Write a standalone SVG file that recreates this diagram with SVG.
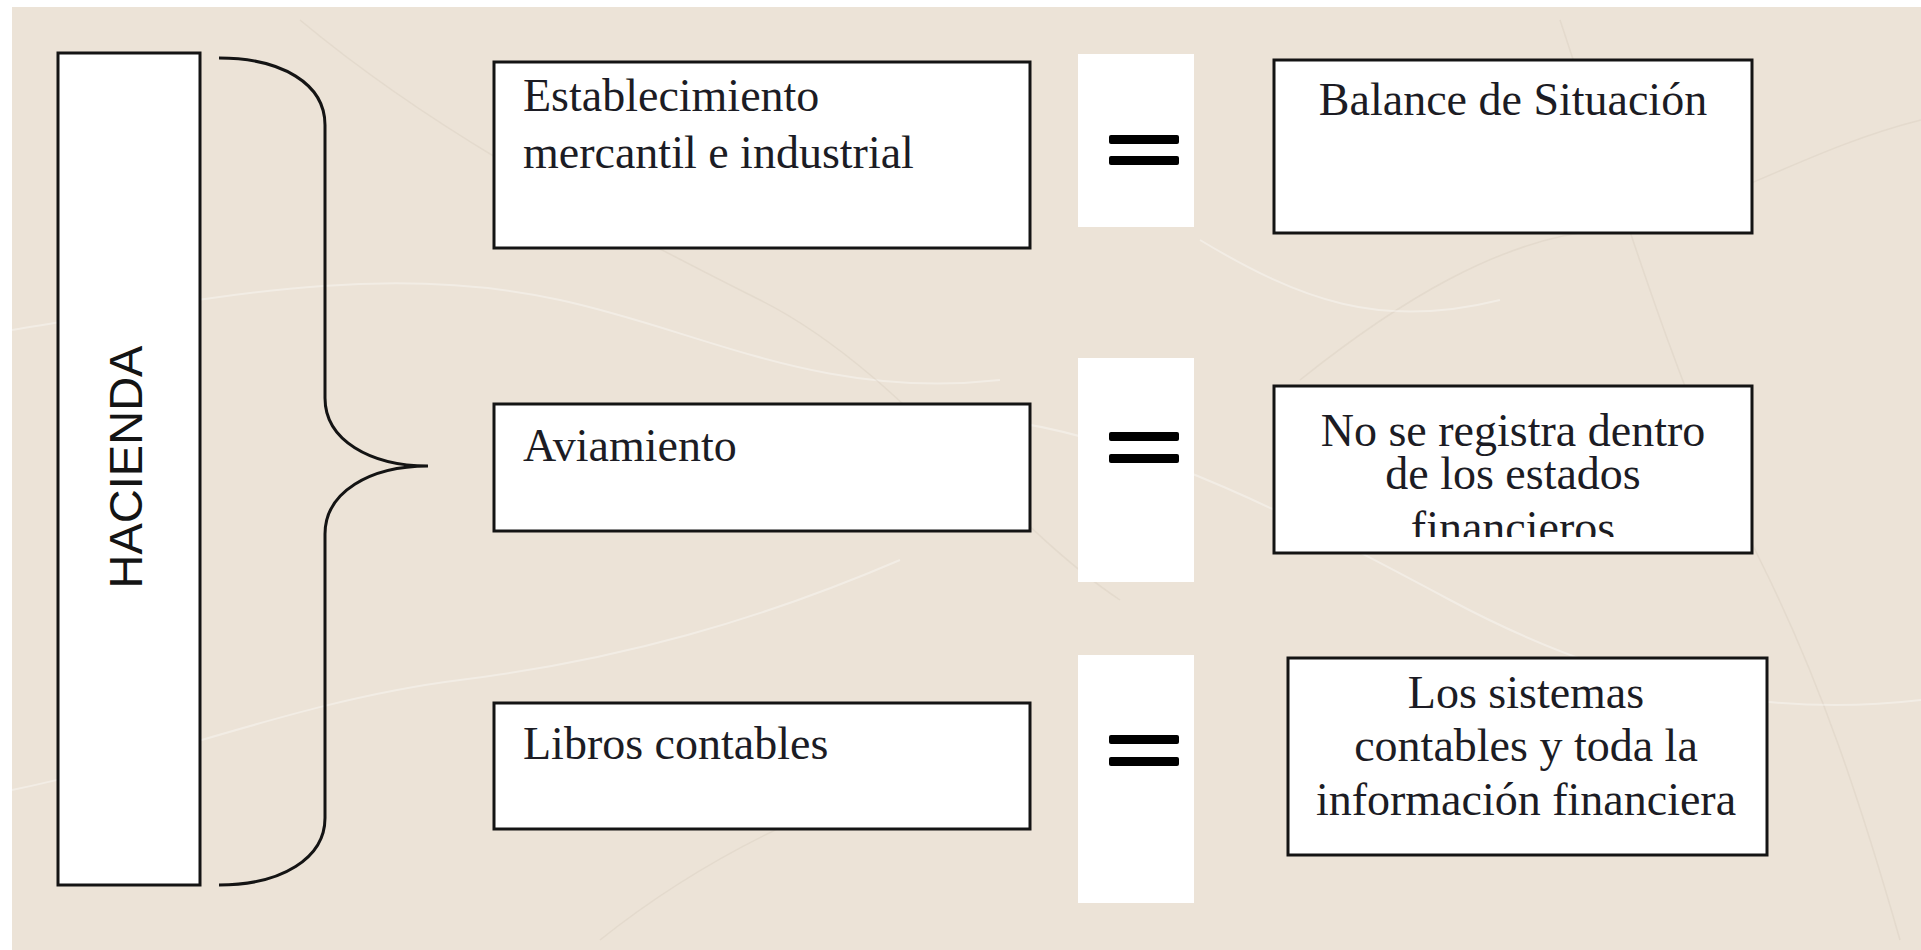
<svg xmlns="http://www.w3.org/2000/svg" width="1921" height="950" viewBox="0 0 1921 950">
  <defs>
    <style>
      .box { fill: #ffffff; stroke: #141414; stroke-width: 3; }
      .eqbg { fill: #ffffff; }
      .bar { fill: #000000; }
      .serif { font-family: "Liberation Serif", "Times New Roman", serif; font-size: 46px; fill: #1c1c24; }
      .sans { font-family: "Liberation Sans", Arial, sans-serif; font-size: 47px; fill: #141414; }
      .vein { fill: none; stroke: #ffffff; stroke-opacity: 0.35; stroke-width: 2; }
      .vein2 { fill: none; stroke: #cdbfae; stroke-opacity: 0.25; stroke-width: 1.5; }
      .brace { fill: none; stroke: #141414; stroke-width: 3; }
    </style>
    <clipPath id="clipNoReg">
      <rect x="1274" y="386" width="478" height="151"/>
    </clipPath>
  </defs>

  <!-- background -->
  <rect x="0" y="0" width="1921" height="950" fill="#ffffff"/>
  <rect x="12" y="7" width="1909" height="943" fill="#ece3d7"/>
  <g id="marble">
    <path class="vein" d="M12,330 C200,300 380,260 560,300 C700,330 820,400 1000,380"/>
    <path class="vein2" d="M300,20 C420,120 560,200 760,300 C900,370 1000,520 1120,600"/>
    <path class="vein" d="M12,790 C160,760 300,700 460,680 C620,660 760,620 900,560"/>
    <path class="vein2" d="M1300,380 C1400,300 1500,240 1600,230 C1700,220 1800,150 1921,120"/>
    <path class="vein2" d="M1560,20 C1620,200 1680,400 1760,560 C1820,680 1860,800 1900,940"/>
    <path class="vein" d="M1000,420 C1150,440 1300,520 1450,600 C1600,680 1750,720 1921,700"/>
    <path class="vein2" d="M600,940 C700,860 820,800 960,760"/>
    <path class="vein" d="M1200,240 C1300,300 1380,330 1500,300"/>
  </g>

  <g id="connectors">
    <path class="brace" d="M219,58 C282,58 325,84 325,125 L325,398 C325,440 370,466 428,466 C370,466 325,492 325,534 L325,818 C325,858 282,885 219,885"/>
  </g>

  <g id="hacienda">
    <rect class="box" x="58" y="53" width="142" height="832"/>
    <text class="sans" transform="translate(142,467) rotate(-90)" x="0" y="0" text-anchor="middle">HACIENDA</text>
  </g>

  <g id="establecimiento">
    <rect class="box" x="494" y="62" width="536" height="186"/>
    <text class="serif" x="523" y="111">Establecimiento</text>
    <text class="serif" x="523" y="168">mercantil e industrial</text>
  </g>

  <g id="aviamiento">
    <rect class="box" x="494" y="404" width="536" height="127"/>
    <text class="serif" x="523" y="461">Aviamiento</text>
  </g>

  <g id="libros">
    <rect class="box" x="494" y="703" width="536" height="126"/>
    <text class="serif" x="523" y="759">Libros contables</text>
  </g>

  <g id="equals1">
    <rect class="eqbg" x="1078" y="54" width="116" height="173"/>
    <rect class="bar" x="1109" y="135" width="70" height="9" rx="2"/>
    <rect class="bar" x="1109" y="156" width="70" height="9" rx="2"/>
  </g>

  <g id="equals2">
    <rect class="eqbg" x="1078" y="358" width="116" height="224"/>
    <rect class="bar" x="1109" y="432" width="70" height="9" rx="2"/>
    <rect class="bar" x="1109" y="454" width="70" height="9" rx="2"/>
  </g>

  <g id="equals3">
    <rect class="eqbg" x="1078" y="655" width="116" height="248"/>
    <rect class="bar" x="1109" y="735" width="70" height="9" rx="2"/>
    <rect class="bar" x="1109" y="757" width="70" height="9" rx="2"/>
  </g>

  <g id="balance">
    <rect class="box" x="1274" y="60" width="478" height="173"/>
    <text class="serif" x="1513" y="115" text-anchor="middle">Balance de Situación</text>
  </g>

  <g id="noregistra">
    <rect class="box" x="1274" y="386" width="478" height="167"/>
    <text class="serif" x="1513" y="446" text-anchor="middle">No se registra dentro</text>
    <text class="serif" x="1513" y="489" text-anchor="middle">de los estados</text>
    <text class="serif" x="1513" y="543" text-anchor="middle" clip-path="url(#clipNoReg)">financieros</text>
  </g>

  <g id="sistemas">
    <rect class="box" x="1288" y="658" width="479" height="197"/>
    <text class="serif" x="1526" y="708" text-anchor="middle">Los sistemas</text>
    <text class="serif" x="1526" y="761" text-anchor="middle">contables y toda la</text>
    <text class="serif" x="1526" y="815" text-anchor="middle">información financiera</text>
  </g>
</svg>
